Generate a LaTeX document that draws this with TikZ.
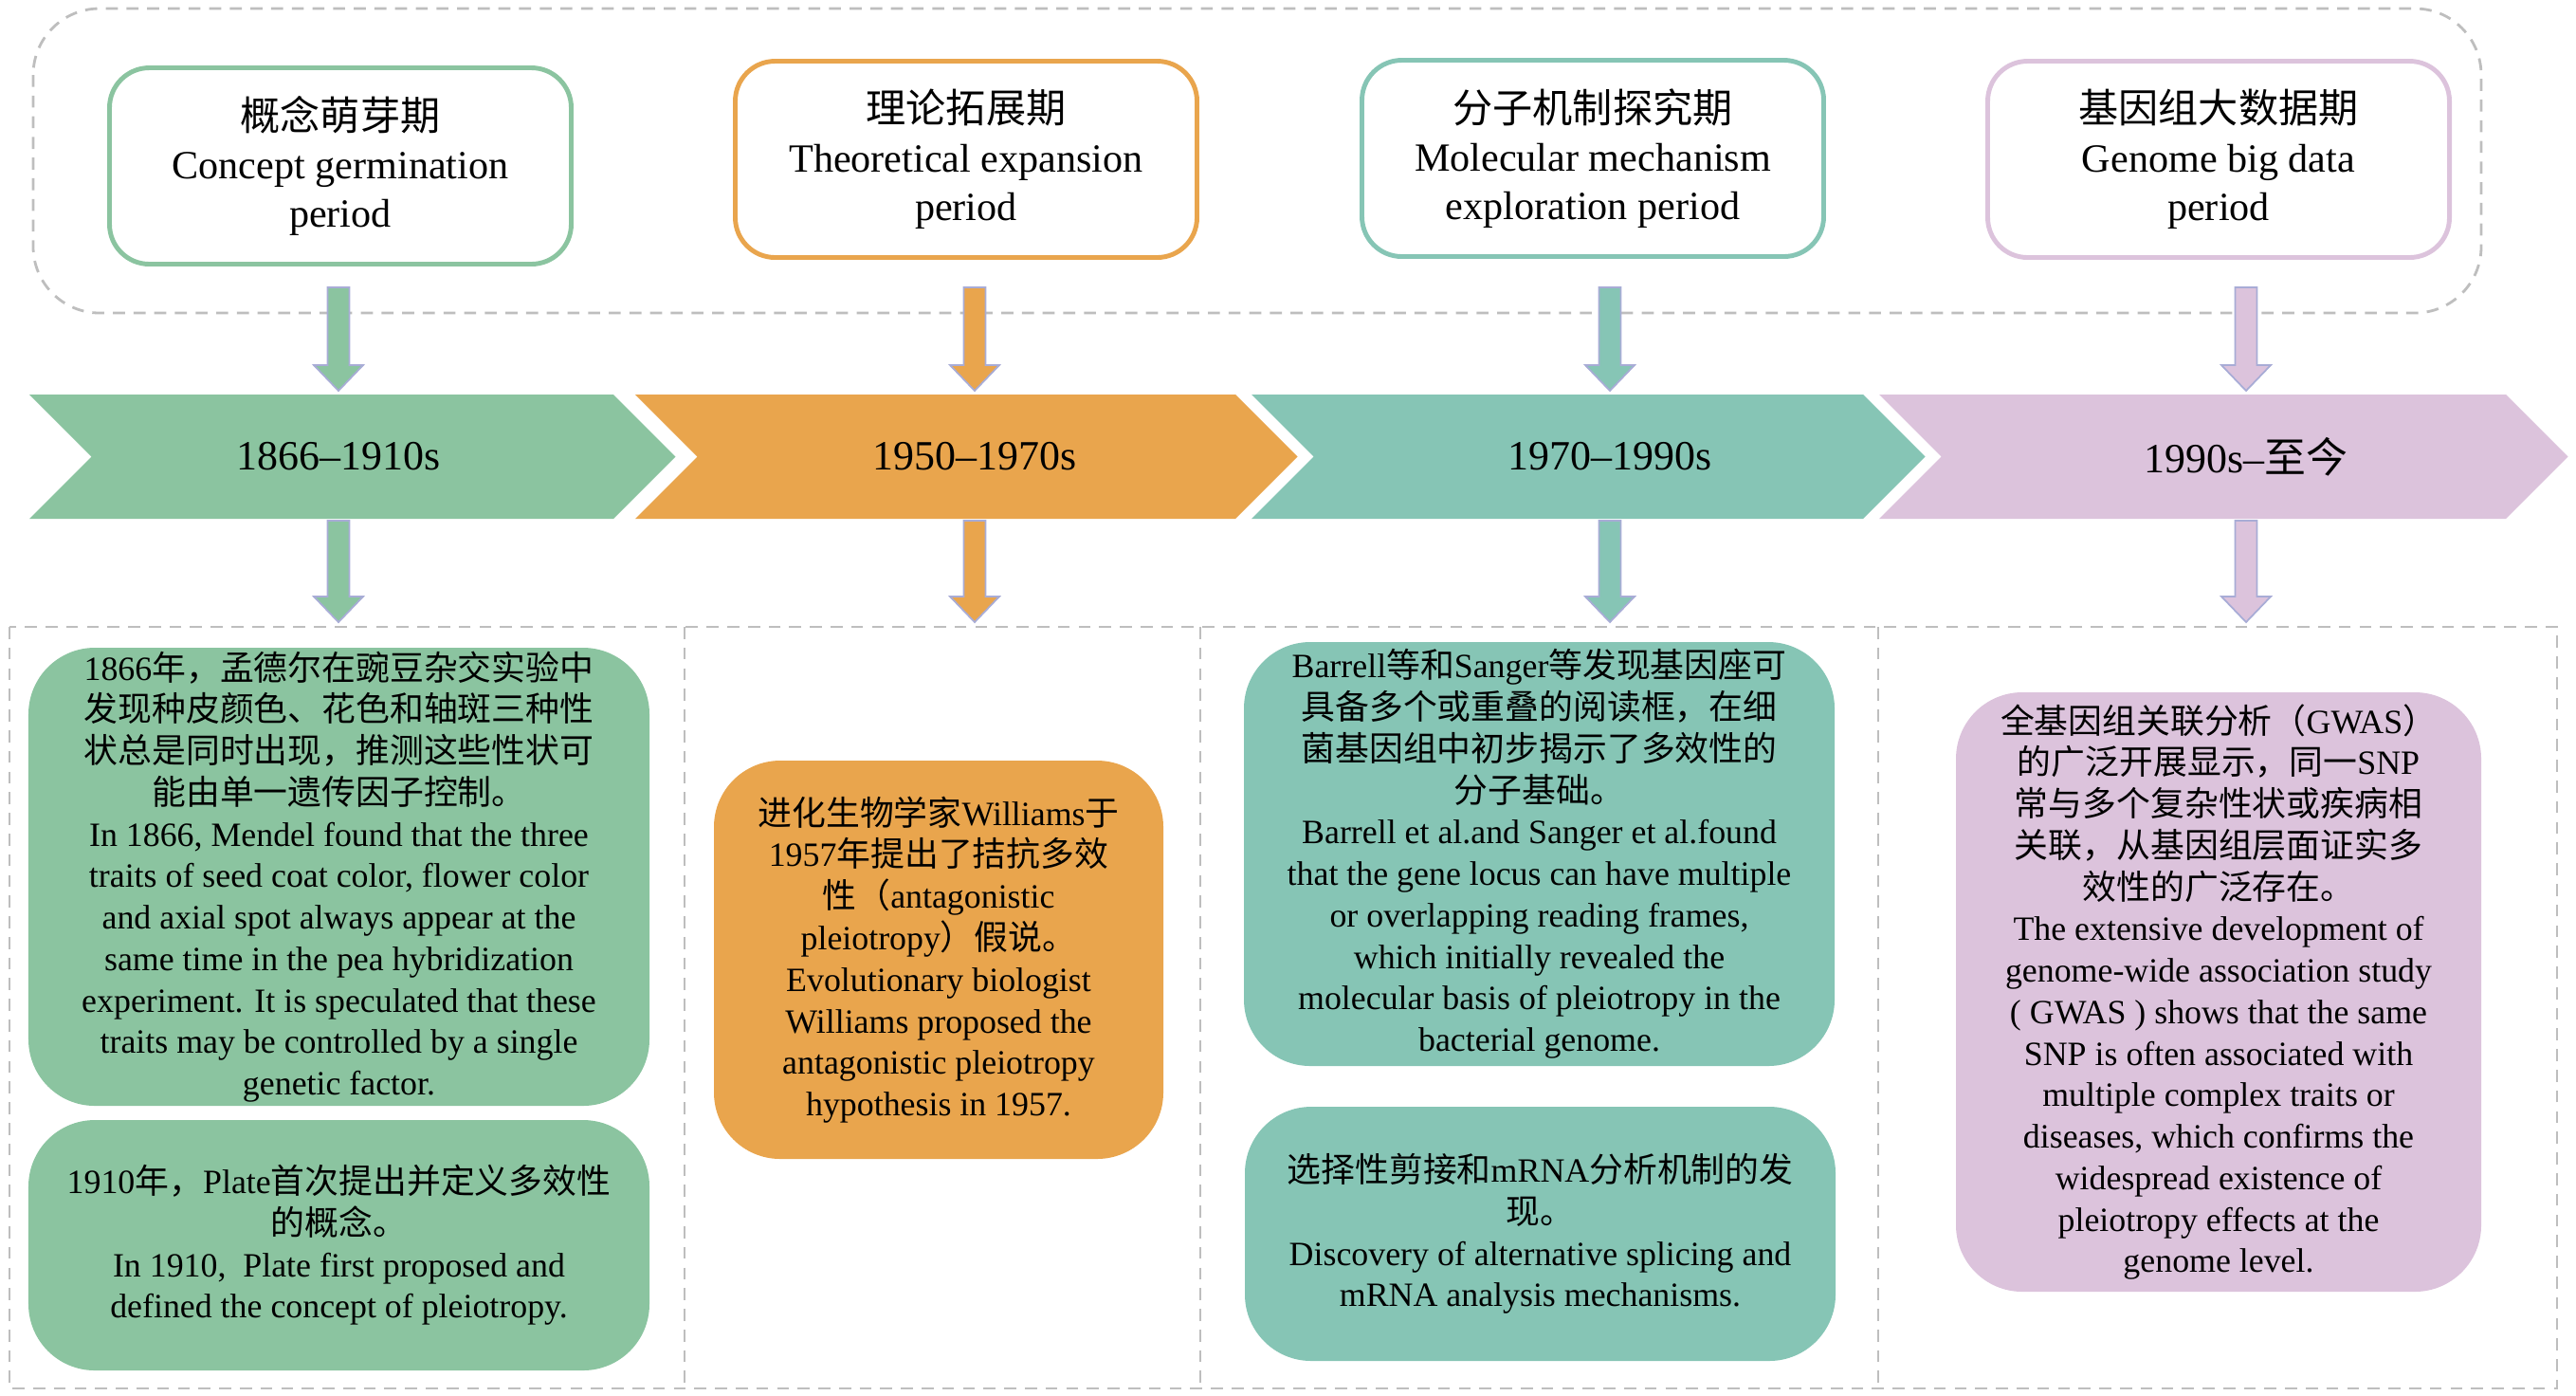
\documentclass[tikz,border=0pt]{standalone}
\usepackage{fontspec}
\setmainfont{Liberation Serif}
\newfontfamily\cjk{Noto Sans CJK SC}
\usepackage{xcolor}
\usepackage{tikz}
\usetikzlibrary{calc}
\definecolor{pgreen}{RGB}{139,196,160}
\definecolor{porange}{RGB}{233,165,77}
\definecolor{pteal}{RGB}{134,197,181}
\definecolor{ppink}{RGB}{220,195,220}
\definecolor{dashgray}{RGB}{190,190,190}
\definecolor{arrowedge}{RGB}{168,172,214}
\newcommand{\zh}[1]{{\cjk #1}}
\tikzset{
    headbox/.style={draw=#1, line width=1.4pt, rounded corners=0.42cm, fill=white, minimum width=4.87cm, minimum height=2.07cm, align=center, font=\fontsize{12}{14.6}\selectfont},
    textbox/.style={fill=#1, rounded corners=0.7cm, align=center, inner sep=0pt, font=\fontsize{10.2}{12.45}\selectfont},
    yearlabel/.style={font=\fontsize{12.5}{15}\selectfont},
    guide/.style={draw=dashgray, line width=0.8pt, dash pattern=on 3.6pt off 2.6pt}}
\newcommand{\blockarrow}[3]{%
  \draw[draw=arrowedge, line width=0.5pt, fill=#1]
    ($(#2)+(-0.115,0)$) -- ($(#3)+(-0.115,0.27)$) -- ($(#3)+(-0.26,0.27)$) -- (#3)
    -- ($(#3)+(0.26,0.27)$) -- ($(#3)+(0.115,0.27)$) -- ($(#2)+(0.115,0)$) -- cycle;}
\newcommand{\chevron}[3]{%
  \fill[#1] (#2,-4.16) -- (#3,-4.16) -- (#3+0.655,-4.815) -- (#3,-5.47) -- (#2,-5.47) -- (#2+0.655,-4.815) -- cycle;}

\begin{document}
\begin{tikzpicture}
\useasboundingbox (0,0) rectangle (27.17,-14.71);

%frames
\draw[guide, rounded corners=0.7cm] (0.35,-0.09) rectangle (26.17,-3.30);
\draw[guide] (0.10,-6.61) rectangle (26.97,-14.64);
\draw[guide] (7.22,-6.61) -- (7.22,-14.64);
\draw[guide] (12.66,-6.61) -- (12.66,-14.64);
\draw[guide] (19.81,-6.61) -- (19.81,-14.64);

%periods
\node[headbox=pgreen] (h1) at (3.59,-1.75) {\zh{概念萌芽期}\\Concept germination\\period};
\node[headbox=porange] (h2) at (10.19,-1.68) {\zh{理论拓展期}\\Theoretical expansion\\period};
\node[headbox=pteal] (h3) at (16.80,-1.67) {\zh{分子机制探究期}\\Molecular mechanism\\exploration period};
\node[headbox=ppink] (h4) at (23.40,-1.68) {\zh{基因组大数据期}\\Genome big data\\period};

%time line
\chevron{pgreen}{0.31}{6.47}
\chevron{porange}{6.70}{13.03}
\chevron{pteal}{13.20}{19.65}
\chevron{ppink}{19.82}{26.43}
\node[yearlabel] (y1) at (3.57,-4.815) {1866–1910s};
\node[yearlabel] (y2) at (10.28,-4.815) {1950–1970s};
\node[yearlabel] (y3) at (16.98,-4.815) {1970–1990s};
\node[yearlabel] (y4) at (23.69,-4.815) {1990s–\zh{至今}};

%arrows
\coordinate (a1) at (3.57,-3.03);
\coordinate (b1) at (3.57,-4.12);
\coordinate (c1) at (3.57,-5.49);
\coordinate (d1) at (3.57,-6.56);
\coordinate (a2) at (10.28,-3.03);
\coordinate (b2) at (10.28,-4.12);
\coordinate (c2) at (10.28,-5.49);
\coordinate (d2) at (10.28,-6.56);
\coordinate (a3) at (16.98,-3.03);
\coordinate (b3) at (16.98,-4.12);
\coordinate (c3) at (16.98,-5.49);
\coordinate (d3) at (16.98,-6.56);
\coordinate (a4) at (23.69,-3.03);
\coordinate (b4) at (23.69,-4.12);
\coordinate (c4) at (23.69,-5.49);
\coordinate (d4) at (23.69,-6.56);
\blockarrow{pgreen}{a1}{b1}
\blockarrow{pgreen}{c1}{d1}
\blockarrow{porange}{a2}{b2}
\blockarrow{porange}{c2}{d2}
\blockarrow{pteal}{a3}{b3}
\blockarrow{pteal}{c3}{d3}
\blockarrow{ppink}{a4}{b4}
\blockarrow{ppink}{c4}{d4}

%first period
\node[textbox=pgreen, minimum width=6.55cm, minimum height=4.83cm] (p1a) at (3.575,-9.245) {1866\zh{年，孟德尔在豌豆杂交实验中}\\
\zh{发现种皮颜色、花色和轴斑三种性}\\
\zh{状总是同时出现，推测这些性状可}\\
\zh{能由单一遗传因子控制。}\\
In 1866, Mendel found that the three\\
traits of seed coat color, flower color\\
and axial spot always appear at the\\
same time in the pea hybridization\\
experiment. It is speculated that these\\
traits may be controlled by a single\\
genetic factor.};
\node[textbox=pgreen, minimum width=6.55cm, minimum height=2.64cm] (p1b) at (3.575,-13.13) {1910\zh{年，}Plate\zh{首次提出并定义多效性}\\
\zh{的概念。}\\
In 1910,\ \ Plate first proposed and\\
defined the concept of pleiotropy.};

%second period
\node[textbox=porange, minimum width=4.74cm, minimum height=4.20cm] (p2) at (9.90,-10.12) {\zh{进化生物学家}Williams\zh{于}\\
1957\zh{年提出了拮抗多效}\\
\zh{性（}antagonistic\\
pleiotropy\zh{）假说。}\\
Evolutionary biologist\\
Williams proposed the\\
antagonistic pleiotropy\\
hypothesis in 1957.};

%third period
\node[textbox=pteal, minimum width=6.23cm, minimum height=4.47cm] (p3a) at (16.235,-9.005) {Barrell\zh{等和}Sanger\zh{等发现基因座可}\\
\zh{具备多个或重叠的阅读框，在细}\\
\zh{菌基因组中初步揭示了多效性的}\\
\zh{分子基础。}\\
Barrell et al.and Sanger et al.found\\
that the gene locus can have multiple\\
or overlapping reading frames,\\
which initially revealed the\\
molecular basis of pleiotropy in the\\
bacterial genome.};
\node[textbox=pteal, minimum width=6.23cm, minimum height=2.68cm] (p3b) at (16.245,-13.01) {\zh{选择性剪接和}mRNA\zh{分析机制的发}\\
\zh{现。}\\
Discovery of alternative splicing and\\
mRNA analysis mechanisms.};

%fourth period
\node[textbox=ppink, minimum width=5.54cm, minimum height=6.32cm] (p4) at (23.40,-10.46) {\zh{全基因组关联分析（}GWAS\zh{）}\\
\zh{的广泛开展显示，同一}SNP\\
\zh{常与多个复杂性状或疾病相}\\
\zh{关联，从基因组层面证实多}\\
\zh{效性的广泛存在。}\\
The extensive development of\\
genome-wide association study\\
( GWAS ) shows that the same\\
SNP is often associated with\\
multiple complex traits or\\
diseases, which confirms the\\
widespread existence of\\
pleiotropy effects at the\\
genome level.};
\end{tikzpicture}
\end{document}
